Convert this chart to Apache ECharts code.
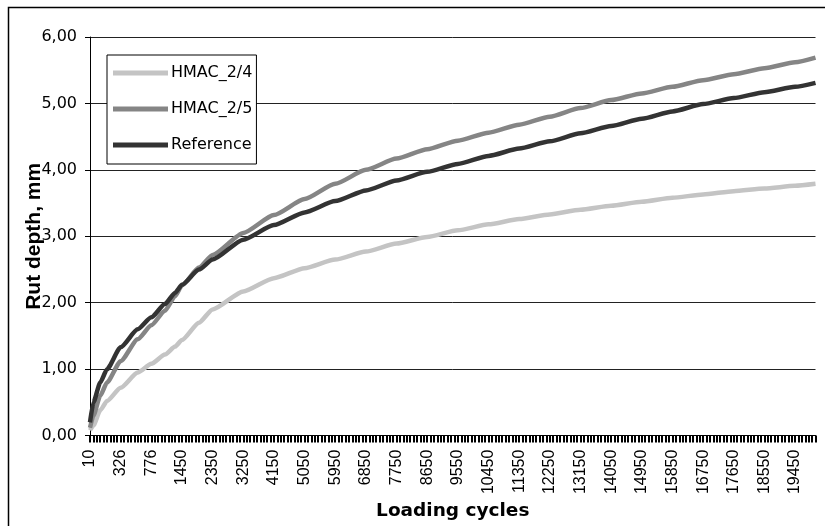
<!DOCTYPE html>
<html>
<head>
<meta charset="utf-8">
<script src="https://cdn.jsdelivr.net/npm/echarts@6/dist/echarts.min.js"></script>
<style>html,body{margin:0;padding:0;background:#fff}#c{width:825px;height:526px}</style>
</head>
<body>
<div id="c"></div>
<script>
// Loading cycles (category axis)
const categories = ['10','26','51','76','101','126','176','226','276','326',
'376','426','476','526','576','626','676','726','776',
'851','926','1001','1076','1151','1226','1301','1376','1450',
'1550','1650','1750','1850','1950','2050','2150','2250','2350','2450','2550','2650','2750','2850','2950','3050','3150','3250',
'3350','3450','3550','3650','3750','3850','3950','4050','4150','4250','4350','4450','4550','4650','4750','4850','4950','5050',
'5150','5250','5350','5450','5550','5650','5750','5850','5950','6050','6150','6250','6350','6450','6550','6650','6750','6850',
'6950','7050','7150','7250','7350','7450','7550','7650','7750','7850','7950','8050','8150','8250','8350','8450','8550','8650',
'8750','8850','8950','9050','9150','9250','9350','9450','9550','9650','9750','9850','9950','10050','10150','10250','10350','10450',
'10550','10650','10750','10850','10950','11050','11150','11250','11350','11450','11550','11650','11750','11850','11950','12050','12150','12250',
'12350','12450','12550','12650','12750','12850','12950','13050','13150','13250','13350','13450','13550','13650','13750','13850','13950','14050',
'14150','14250','14350','14450','14550','14650','14750','14850','14950','15050','15150','15250','15350','15450','15550','15650','15750','15850',
'15950','16050','16150','16250','16350','16450','16550','16650','16750','16850','16950','17050','17150','17250','17350','17450','17550','17650',
'17750','17850','17950','18050','18150','18250','18350','18450','18550','18650','18750','18850','18950','19050','19150','19250','19350','19450',
'19550','19650','19750','19850','19950','20050'];

const sampleCycles = ['10','26','76','126','326','576','776','1076','1301','1450','1950','2350','3250','4150','5050','5950','6850','7750','8650','9550','10450','11350','12250','13150','14050','14950','15850','16750','17650','18550','19450','20050'];

const hmac24 = [0.08,0.15,0.38,0.52,0.72,0.95,1.08,1.22,1.34,1.44,1.70,1.90,2.17,2.37,2.52,2.65,2.77,2.89,2.99,3.09,3.18,3.26,3.33,3.40,3.46,3.52,3.58,3.63,3.68,3.72,3.76,3.79];
const hmac25 = [0.12,0.30,0.60,0.80,1.12,1.45,1.66,1.88,2.10,2.26,2.53,2.72,3.05,3.32,3.56,3.79,4.00,4.17,4.31,4.44,4.56,4.68,4.80,4.93,5.05,5.15,5.25,5.35,5.44,5.53,5.62,5.69];
const reference = [0.20,0.50,0.80,1.00,1.33,1.60,1.78,1.98,2.15,2.27,2.50,2.65,2.95,3.17,3.36,3.53,3.69,3.84,3.97,4.09,4.21,4.32,4.43,4.55,4.66,4.77,4.88,4.99,5.08,5.17,5.25,5.31];

function pts(vals){ return sampleCycles.map((c,i)=>[categories.indexOf(c), vals[i]]); }

const chart = echarts.init(document.getElementById('c'), null, {renderer:'canvas'});
const hFont = 'DejaVu Sans';
chart.setOption({
  animation:false,
  backgroundColor:'#fff',
  graphic:[{type:'rect', shape:{x:8.5,y:7.5,width:840,height:540}, style:{fill:'none',stroke:'#000',lineWidth:1.5}, silent:true}],
  grid:{left:90, top:37, right:9.5, bottom:89, containLabel:false},
  legend:{
    orient:'vertical', left:107, top:55,
    padding:[10,4,11,6], itemGap:20,
    borderColor:'#000', borderWidth:1, backgroundColor:'#fff',
    icon:'rect', itemWidth:55, itemHeight:5,
    textStyle:{fontFamily:hFont, fontSize:16, color:'#000', padding:[0,0,0,-2]},
    data:['HMAC_2/4','HMAC_2/5','Reference']
  },
  xAxis:{
    type:'category', data:categories, boundaryGap:false,
    name:'Loading cycles', nameLocation:'middle', nameGap:64,
    nameTextStyle:{fontFamily:hFont, fontWeight:'bold', fontSize:18.5, color:'#000'},
    axisLine:{show:true, lineStyle:{color:'#000', width:1}},
    axisTick:{show:true, interval:0, length:7, lineStyle:{color:'#000', width:2}},
    axisLabel:{interval:8, rotate:90, margin:14, fontFamily:'Liberation Sans', fontSize:16, color:'#000'},
    splitLine:{show:false}
  },
  yAxis:{
    type:'value', min:0, max:6, interval:1,
    name:'Rut depth, mm', nameLocation:'middle', nameGap:45, nameRotate:90, nameMoveOverlap:false,
    nameTextStyle:{fontFamily:'Liberation Sans', fontWeight:'bold', fontSize:21, color:'#000'},
    axisLine:{show:true, lineStyle:{color:'#000', width:1}},
    axisTick:{show:true, length:5, lineStyle:{color:'#000'}},
    axisLabel:{margin:13, fontFamily:hFont, fontSize:16, color:'#000',
      formatter:v=>v.toFixed(2).replace('.',',')},
    splitLine:{show:true, lineStyle:{color:'#222', width:1}}
  },
  series:[
    {name:'HMAC_2/4', type:'line', data:pts(hmac24), showSymbol:false, smooth:0.2, smoothMonotone:'x', color:'#c4c4c4', lineStyle:{width:4.5, color:'#c4c4c4'}},
    {name:'HMAC_2/5', type:'line', data:pts(hmac25), showSymbol:false, smooth:0.2, smoothMonotone:'x', color:'#858585', lineStyle:{width:4.5, color:'#858585'}},
    {name:'Reference', type:'line', data:pts(reference), showSymbol:false, smooth:0.2, smoothMonotone:'x', color:'#333333', lineStyle:{width:4.5, color:'#333333'}}
  ]
});
</script>
</body>
</html>
